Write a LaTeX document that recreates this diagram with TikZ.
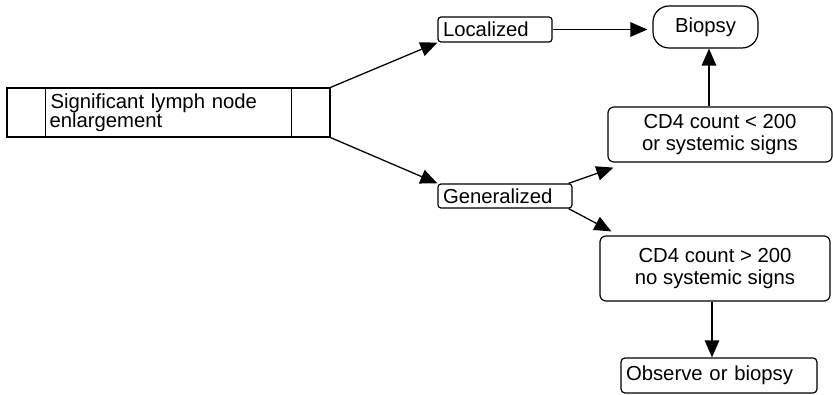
\documentclass[tikz,border=0pt]{standalone}
\usepackage{fontspec}
\setmainfont{Liberation Sans}
\usetikzlibrary{arrows.meta}
\begin{document}
\begin{tikzpicture}[x=1pt,y=-1pt,
  every node/.style={font=\fontsize{20.3}{21.5}\selectfont},
  box/.style={draw, line width=1.2pt, inner sep=0pt, minimum width=#1},
  leftbox/.style={box=#1, text width=#1-10pt, align=left},
  midbox/.style={box=#1, align=center},
  link/.style={line width=1.3pt, -{Triangle[length=17pt,width=14.5pt]}}
]
\useasboundingbox (0,0) rectangle (833,395);

% boxes
\node[leftbox=323pt, minimum height=49pt, text width=238pt] (lymph) at (168.5,112.5)
  {\hspace*{1pt}Significant lymph node\\[-2.5pt]enlargement};
\draw[line width=1.2pt] ([xshift=39pt]lymph.north west) -- ([xshift=39pt]lymph.south west);
\draw[line width=1.2pt] ([xshift=-39pt]lymph.north east) -- ([xshift=-39pt]lymph.south east);
\node[leftbox=114pt, minimum height=25pt, rounded corners=3pt] (loc) at (495,29.5) {Localized};
\node[midbox=105pt, minimum height=42pt, rounded corners=16pt] (bio) at (705.5,27) {Biopsy};
\node[midbox=224pt, minimum height=55pt, rounded corners=6pt] (cdlt) at (720,134.5)
  {CD4 count < 200\\or systemic signs};
\node[leftbox=134pt, minimum height=24pt, rounded corners=3pt] (gen) at (505,196) {Generalized};
\node[midbox=230pt, minimum height=65pt, rounded corners=6pt] (cdgt) at (715,268.5)
  {CD4 count > 200\\no systemic signs};
\node[leftbox=196pt, minimum height=35pt, rounded corners=4pt] (obs) at (719,375.5) {Observe or biopsy};

% connectors
\draw[link] (lymph.north east) -- (loc.south west);
\draw[link] (lymph.south east) -- (gen.north west);
\draw[link, shorten >=5pt] (loc.east) -- (loc.east -| bio.west);
\coordinate (cdltup) at ([xshift=-11pt]cdlt.north);
\draw[link] (cdltup) -- (cdltup |- bio.south);
\draw[link] ([xshift=-4pt]gen.north east) -- ([xshift=6pt,yshift=-5pt]cdlt.south west);
\draw[link] ([xshift=-4pt]gen.south east) -- ([xshift=12pt,yshift=4pt]cdgt.north west);
\coordinate (cdgtdown) at ([xshift=-3pt]cdgt.south);
\draw[link] (cdgtdown) -- (cdgtdown |- obs.north);
\end{tikzpicture}
\end{document}
